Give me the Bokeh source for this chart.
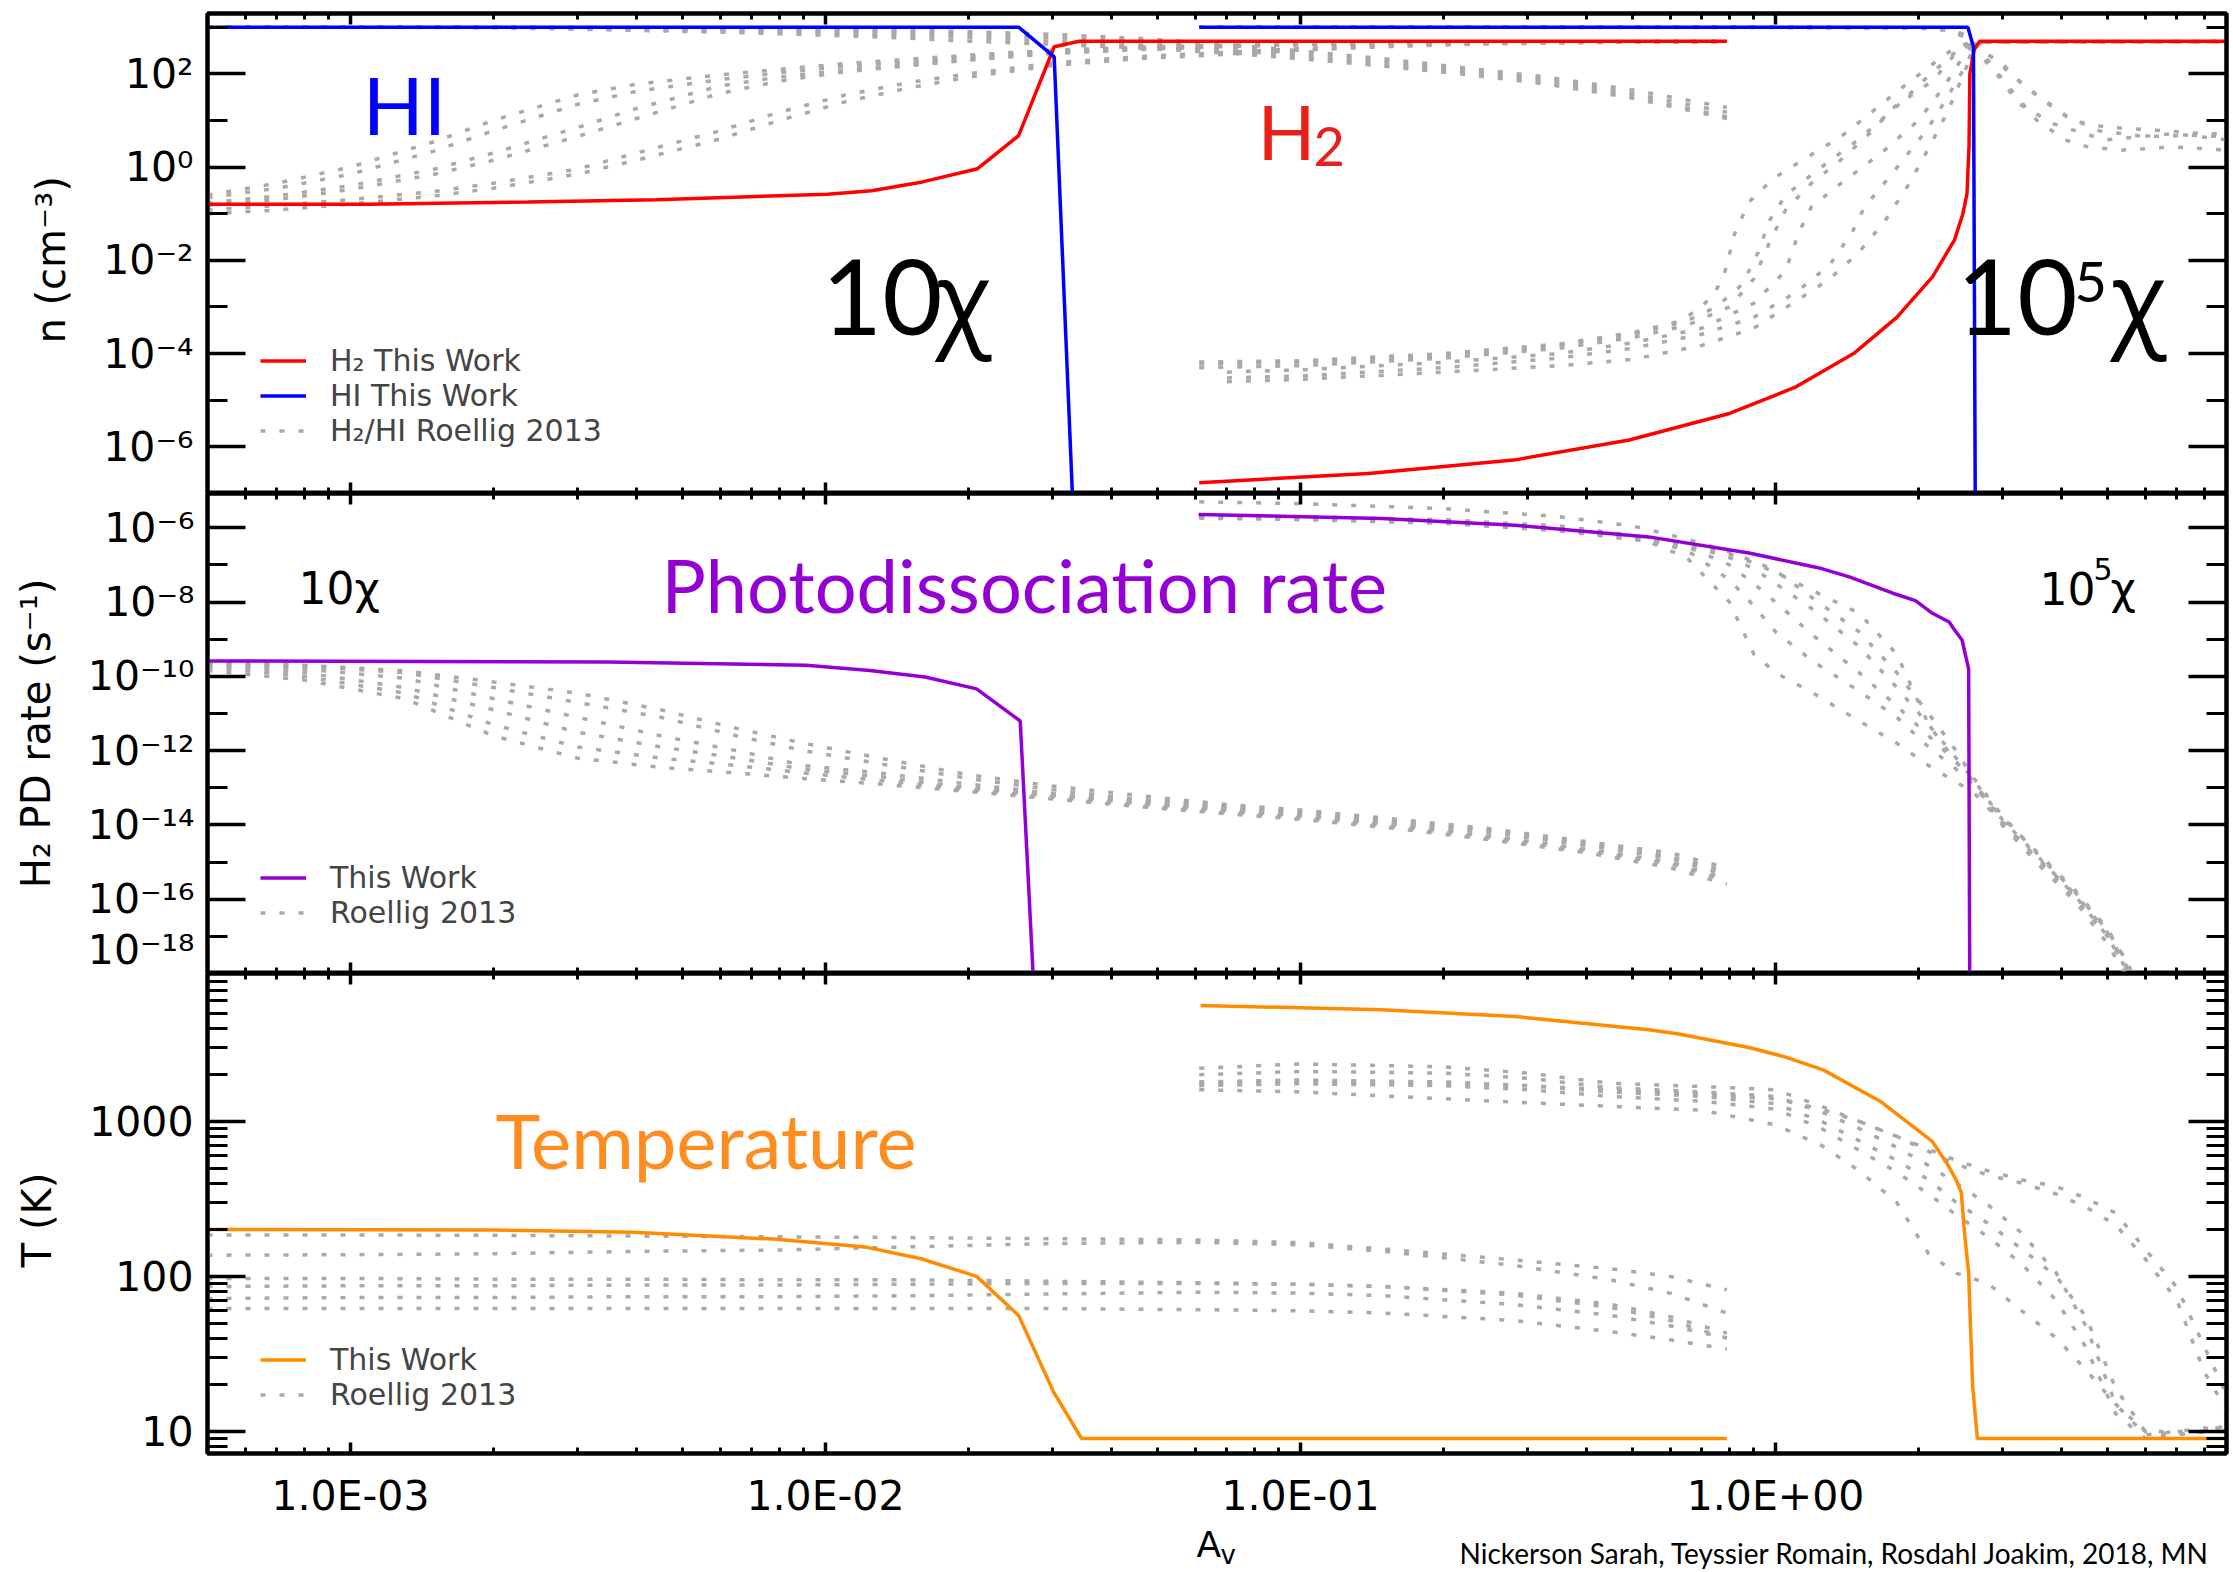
from bokeh.plotting import figure
from bokeh.layouts import column
from bokeh.models import (Range1d, LogAxis, FixedTicker, Label, Legend, LegendItem)
from bokeh.core.properties import value
from bokeh.embed import file_html
from bokeh.resources import INLINE

# ------------------------------------------------------------------
# Axis ticks and labels
# ------------------------------------------------------------------
av_ticks = [1.0e-3, 1.0e-2, 1.0e-1, 1.0]
av_tick_labels = ["1.0E-03", "1.0E-02", "1.0E-01", "1.0E+00"]

n_ticks = [1e-6, 1e-4, 1e-2, 1.0, 1e2]
n_tick_labels = ["10⁻⁶", "10⁻⁴", "10⁻²", "10⁰", "10²"]

pd_ticks = [1e-16, 1e-14, 1e-12, 1e-10, 1e-8, 1e-6]
pd_tick_labels = ["10⁻¹⁶", "10⁻¹⁴", "10⁻¹²", "10⁻¹⁰", "10⁻⁸", "10⁻⁶"]
pd_bottom_label = "10⁻¹⁸"     # the 1e-18 label sits just above the frame edge
pd_bottom_label_at = 2.24e-18

t_ticks = [10.0, 100.0, 1000.0]
t_tick_labels = ["10", "100", "1000"]

# ------------------------------------------------------------------
# Panel 1: H2 / HI number densities (cm^-3), this work
# ------------------------------------------------------------------
h2_lo_av = [5.0e-4, 1.09e-3, 2.36e-3, 4.4e-3, 0.0101, 0.0125, 0.0160, 0.0209, 0.0255, 0.0303, 0.0342, 0.79]
h2_lo_n = [0.16, 0.16, 0.177, 0.20, 0.26, 0.31, 0.48, 0.92, 4.7, 380.0, 500.0, 500.0]
hi_lo_av = [5.0e-4, 0.0255, 0.0303, 0.0334]
hi_lo_n = [1000.0, 1000.0, 231.0, 1.0e-8]

h2_hi_av = [0.0612, 0.139, 0.281, 0.492, 0.80, 1.10, 1.46, 1.80, 2.14, 2.38, 2.48, 2.53,
            2.555, 2.565, 2.62, 2.69, 8.9]
h2_hi_n = [1.7e-7, 2.7e-7, 5.2e-7, 1.4e-6, 5.2e-6, 1.9e-5, 1.0e-4, 6.0e-4, 4.4e-3, 0.027, 0.10, 0.27,
           3.0, 100.0, 330.0, 500.0, 500.0]
hi_hi_av = [0.0612, 2.54, 2.61, 2.635]
hi_hi_n = [1000.0, 1000.0, 380.0, 1.0e-8]

# Roellig 2013 benchmark models, 10 chi
rl_n_lo_av = [5.0e-4, 7.0e-4, 1.0e-3, 1.5e-3, 2.0e-3, 3.0e-3, 4.0e-3, 6.0e-3, 8.0e-3, 0.011, 0.015,
              0.02, 0.03, 0.045, 0.07, 0.1, 0.15, 0.22, 0.33, 0.5, 0.79]
rl_h2_lo = [
    [0.25, 0.45, 1.0, 3.5, 10, 35, 60, 95, 125, 165, 205, 250, 320, 370, 410, 440, 460, 475, 485, 490, 495],
    [0.22, 0.35, 0.7, 2.2, 6, 22, 42, 75, 105, 145, 185, 230, 300, 355, 400, 430, 455, 470, 480, 488, 492],
    [0.17, 0.24, 0.4, 0.9, 2.0, 7, 18, 55, 85, 120, 160, 205, 280, 340, 390, 425, 450, 468, 478, 486, 490],
    [0.15, 0.2, 0.33, 0.7, 1.4, 4.5, 11, 38, 70, 110, 150, 195, 270, 330, 385, 420, 448, 465, 477, 485, 490],
    [0.12, 0.15, 0.2, 0.3, 0.45, 0.9, 2.0, 6, 15, 35, 65, 100, 170, 230, 290, 350, 400, 440, 465, 480, 488],
    [0.1, 0.12, 0.16, 0.24, 0.35, 0.7, 1.4, 4, 10, 25, 50, 85, 150, 210, 260, 320, 380, 425, 455, 475, 485],
]
rl_hi_lo = [
    [1000, 1000, 1000, 1000, 1000, 990, 980, 960, 940, 900, 860, 800, 700, 580, 430, 310, 210, 135, 85, 45, 19],
    [1000, 1000, 1000, 1000, 995, 960, 940, 900, 860, 820, 760, 690, 600, 490, 370, 270, 185, 120, 75, 38, 15],
    [1000, 1000, 1000, 995, 985, 930, 890, 840, 790, 740, 670, 600, 500, 410, 320, 235, 160, 108, 66, 33, 12],
    [1000, 1000, 995, 985, 970, 900, 850, 780, 720, 650, 580, 500, 430, 360, 280, 210, 145, 98, 60, 30, 11],
]

# Roellig 2013 benchmark models, 10^5 chi
rl_h2_hi_av = [
    [0.0612, 0.1, 0.2, 0.35, 0.5, 0.63, 0.70, 0.75, 0.78, 0.82, 0.88, 0.99, 1.17, 1.37, 1.58, 1.82, 2.15, 2.40, 2.6, 3.5, 9.0],
    [0.0612, 0.1, 0.2, 0.35, 0.5, 0.65, 0.8, 0.9, 0.98, 1.05, 1.19, 1.37, 1.58, 1.78, 2.15, 2.36, 2.55, 2.7, 9.0],
    [0.07, 0.1, 0.2, 0.35, 0.5, 0.7, 0.9, 1.05, 1.12, 1.19, 1.40, 1.67, 2.0, 2.26, 2.48, 2.6, 2.75, 9.0],
    [0.07, 0.1, 0.2, 0.35, 0.5, 0.7, 0.9, 1.1, 1.3, 1.45, 1.54, 1.76, 2.08, 2.28, 2.53, 2.62, 2.75, 9.0],
    [0.07, 0.1, 0.2, 0.35, 0.5, 0.7, 0.9, 1.1, 1.3, 1.5, 1.7, 1.9, 2.1, 2.3, 2.5, 2.62, 2.75, 9.0],
    [0.0612, 0.1, 0.2, 0.35, 0.5, 0.65, 0.75, 0.85, 0.92, 0.97, 1.05, 1.25, 1.5, 1.8, 2.1, 2.4, 2.6, 2.75, 9.0],
]
rl_h2_hi_n = [
    [6.6e-5, 7e-5, 1.0e-4, 1.6e-4, 2.8e-4, 5e-4, 1e-3, 2.3e-3, 5e-3, 0.037, 0.18, 0.57, 1.66, 4.4, 14, 45, 166, 380, 480, 490, 495],
    [5e-5, 5.5e-5, 8e-5, 1.3e-4, 2.2e-4, 4e-4, 1e-3, 4e-3, 0.03, 0.12, 0.45, 1.4, 5.3, 19.6, 73, 230, 420, 480, 490],
    [4e-5, 4.5e-5, 6.5e-5, 1.0e-4, 1.7e-4, 3.5e-4, 1.2e-3, 6e-3, 0.04, 0.14, 0.52, 2.0, 10, 52, 230, 430, 480, 488],
    [3e-5, 3.3e-5, 5e-5, 8e-5, 1.3e-4, 2.6e-4, 6e-4, 2e-3, 8e-3, 0.04, 0.14, 0.72, 6.2, 27, 166, 400, 480, 485],
    [2.5e-5, 2.8e-5, 4e-5, 5.5e-5, 7.5e-5, 1.5e-4, 3.5e-4, 1.3e-3, 4e-3, 0.015, 0.07, 0.4, 2.5, 15, 110, 380, 470, 480],
    [6e-5, 6.5e-5, 9e-5, 1.5e-4, 2.6e-4, 5e-4, 1e-3, 3e-3, 0.015, 0.07, 0.25, 1.0, 4, 20, 90, 300, 450, 485, 490],
]
rl_hi_hi_av = [
    [0.0612, 1.0, 2.0, 2.3, 2.5, 2.62, 2.70, 3.0, 3.3, 3.77, 4.22, 4.94, 6.24, 7.92, 9.0],
    [0.0612, 1.0, 2.0, 2.3, 2.5, 2.65, 2.80, 3.13, 3.55, 4.07, 4.55, 5.33, 6.9, 9.0],
    [0.0612, 1.0, 2.0, 2.3, 2.5, 2.65, 2.9, 3.25, 3.84, 4.94, 6.9, 9.0],
    [0.0612, 2.0, 2.35, 2.55, 2.7, 2.9, 3.2, 3.6, 4.1, 4.8, 6.0, 7.5, 9.0],
]
rl_hi_hi_n = [
    [1000, 995, 970, 900, 700, 450, 320, 166, 62, 23, 10, 7.2, 6.2, 5.2, 5.2],
    [1000, 990, 950, 850, 620, 380, 195, 45, 10, 3.8, 2.7, 2.3, 2.7, 2.3],
    [1000, 990, 960, 880, 660, 300, 110, 23, 8.5, 3.8, 5.2, 3.8],
    [1000, 975, 880, 600, 350, 200, 80, 30, 12, 6, 4.5, 4.8, 4.5],
]

# ------------------------------------------------------------------
# Panel 2: H2 photodissociation rate (s^-1)
# ------------------------------------------------------------------
pd_lo_av = [5.0e-4, 3.47e-3, 9.1e-3, 0.0124, 0.0162, 0.0208, 0.0257, 0.0276]
pd_lo_k = [2.6e-10, 2.45e-10, 2.0e-10, 1.45e-10, 9.6e-11, 4.6e-11, 6.3e-12, 1.0e-19]
pd_hi_av = [0.0610, 0.148, 0.283, 0.541, 0.879, 1.25, 1.43, 1.80, 1.97, 2.14, 2.32, 2.38, 2.47, 2.55, 2.565]
pd_hi_k = [2.3e-6, 1.78e-6, 1.17e-6, 5.7e-7, 2.1e-7, 8.0e-8, 4.8e-8, 1.6e-8, 1.1e-8, 5.0e-9, 2.9e-9,
           1.8e-9, 9.5e-10, 1.6e-10, 1.0e-19]

# Roellig 2013, log10 of the rate
rl_pd_lo_av = [5.0e-4, 8.0e-4, 1.3e-3, 2.0e-3, 3.0e-3, 4.5e-3, 6.5e-3, 9.0e-3, 0.013, 0.02, 0.03,
               0.045, 0.07, 0.1, 0.16, 0.25, 0.4, 0.6, 0.79]
rl_pd_lo_log = [
    [-9.6, -9.7, -9.85, -10.15, -10.45, -10.9, -11.4, -11.8, -12.2, -12.65, -12.95, -13.2, -13.45, -13.6, -13.85, -14.1, -14.45, -14.75, -15.15],
    [-9.62, -9.72, -9.9, -10.3, -10.7, -11.1, -11.6, -12.0, -12.35, -12.75, -13.05, -13.3, -13.5, -13.65, -13.9, -14.15, -14.5, -14.85, -15.25],
    [-9.65, -9.8, -10.05, -10.6, -11.1, -11.6, -12.0, -12.4, -12.6, -12.9, -13.15, -13.35, -13.55, -13.7, -13.95, -14.2, -14.55, -14.9, -15.35],
    [-9.7, -9.9, -10.3, -10.9, -11.5, -11.9, -12.2, -12.5, -12.7, -13.0, -13.2, -13.4, -13.6, -13.75, -14.0, -14.3, -14.65, -15.0, -15.45],
    [-9.84, -10.1, -10.6, -11.6, -12.2, -12.45, -12.6, -12.75, -12.9, -13.1, -13.3, -13.5, -13.7, -13.85, -14.1, -14.4, -14.75, -15.15, -15.6],
    [-9.75, -10.0, -10.45, -11.3, -11.9, -12.2, -12.4, -12.6, -12.8, -13.05, -13.25, -13.45, -13.65, -13.8, -14.05, -14.35, -14.7, -15.05, -15.5],
]
rl_pd_hi_av = [0.0612, 0.1, 0.2, 0.35, 0.5, 0.65, 0.8, 0.9, 1.0, 1.2, 1.5, 1.8, 2.1, 2.4, 2.6,
               3.0, 3.6, 4.3, 5.0, 5.6]
rl_pd_hi_log = [
    [-5.67, -5.7, -5.78, -5.95, -6.2, -6.8, -8.0, -9.4, -9.9, -10.45, -11.2, -11.8, -12.4, -12.85, -13.1, -13.95, -14.95, -15.9, -16.9, -18.0],
    [-5.68, -5.72, -5.8, -6.0, -6.25, -6.6, -7.4, -8.1, -8.8, -9.6, -10.4, -11.1, -11.9, -12.5, -12.9, -13.8, -14.8, -15.8, -16.8, -17.9],
    [-5.7, -5.74, -5.82, -6.02, -6.28, -6.5, -7.0, -7.5, -8.0, -8.9, -9.9, -10.8, -11.6, -12.3, -12.8, -13.9, -15.0, -16.0, -17.0, -18.1],
    [-5.72, -5.76, -5.85, -6.05, -6.3, -6.45, -6.8, -7.1, -7.5, -8.2, -9.2, -10.3, -11.3, -12.2, -12.75, -13.85, -14.9, -15.95, -17.0, -18.1],
    [-5.74, -5.78, -5.88, -6.08, -6.32, -6.4, -6.7, -6.95, -7.2, -7.7, -8.3, -9.4, -11.3, -12.3, -12.85, -14.0, -15.1, -16.1, -17.2, -18.3],
    [-5.3, -5.35, -5.48, -5.7, -5.95, -6.3, -6.65, -6.9, -7.15, -7.9, -8.8, -9.9, -11.0, -12.0, -12.7, -13.75, -14.85, -15.85, -16.85, -17.85],
]

# ------------------------------------------------------------------
# Panel 3: gas temperature (K)
# ------------------------------------------------------------------
t_lo_av = [5.0e-4, 1.99e-3, 3.94e-3, 7.77e-3, 0.0121, 0.0159, 0.0208, 0.0255, 0.0302, 0.0346, 0.79]
t_lo_T = [201, 199, 193, 174, 155, 130, 100, 56, 18, 9.0, 9.0]
t_hi_av = [0.0616, 0.148, 0.283, 0.541, 0.63, 0.879, 1.05, 1.26, 1.66, 2.03, 2.14, 2.31, 2.40, 2.46,
           2.50, 2.55, 2.60, 2.66, 8.9]
t_hi_T = [5600, 5250, 4750, 3900, 3650, 3000, 2600, 2150, 1350, 840, 740, 520, 420, 348,
          190, 105, 19.5, 9.0, 9.0]

rl_t_lo_av = [5.0e-4, 1.0e-3, 2.0e-3, 4.0e-3, 8.0e-3, 0.015, 0.03, 0.06, 0.1, 0.15, 0.28, 0.45, 0.6, 0.79]
rl_t_lo = [
    [185, 185, 184, 182, 180, 178, 175, 172, 165, 150, 128, 112, 100, 82],
    [137, 138, 140, 145, 148, 155, 163, 166, 160, 145, 118, 95, 78, 58],
    [97, 97, 96, 96, 95, 95, 93, 91, 89, 86, 78, 66, 55, 43],
    [86, 87, 87, 88, 88, 89, 90, 90, 89, 86, 76, 63, 52, 40],
    [72, 73, 73, 74, 74, 75, 77, 79, 78, 75, 66, 56, 48, 40],
    [62, 62, 62, 62, 62, 62, 62, 61, 60, 58, 52, 44, 39, 34],
]
rl_t_hi_av = [0.0612, 0.1, 0.2, 0.3, 0.45, 0.7, 1.0, 1.25, 1.5, 1.8, 2.1, 2.4, 2.8, 3.3, 3.9, 4.5,
              5.2, 6.0, 7.0, 8.0, 9.0]
rl_t_hi = [
    [2200, 2350, 2250, 2050, 1760, 1680, 1600, 1250, 1000, 800, 640, 530, 450, 400, 340, 280, 215, 130, 70, 24, 13],
    [2000, 2100, 2050, 1900, 1650, 1550, 1450, 1150, 900, 680, 520, 400, 290, 190, 105, 48, 15, 9.5, 10, 10.5, 10],
    [1800, 1850, 1800, 1700, 1550, 1450, 1300, 1000, 750, 560, 420, 300, 220, 150, 100, 55, 19, 10, 10, 10, 11],
    [1700, 1750, 1700, 1600, 1450, 1350, 1200, 900, 650, 470, 340, 250, 180, 120, 70, 35, 13, 9, 9.5, 10, 11],
    [1600, 1550, 1400, 1320, 1250, 1180, 950, 700, 480, 300, 140, 105, 90, 60, 40, 25, 15, 10, 9.5, 10, 10],
    [1750, 1800, 1750, 1700, 1600, 1500, 1400, 1200, 1000, 800, 660, 560, 480, 420, 380, 320, 256, 150, 85, 35, 16],
]

# ------------------------------------------------------------------
# Styling
# ------------------------------------------------------------------
RED, BLUE, PURPLE, ORANGE, GRAY = "#ff0000", "#0000ff", "#9400d3", "#ff8c00", "#a9a9a9"
LINE_W = 3.5
FRAME_W, FRAME_H = 2019, 480
LEFT, RIGHT = 207, 7
TICK_FONT = "DejaVu Sans"
TICK_PX = 41
ROW_H = 35
BASELINE_SHIFT = 0.39   # Label anchors sit this fraction of the font size above the baseline

x_range = Range1d(5.0e-4, 8.9)
x_minor = [m * 10.0 ** e for e in range(-4, 1) for m in range(2, 10) if 5.0e-4 < m * 10.0 ** e < 8.9]


def make_panel(y_range, y_major, y_minor, border_top, border_bottom):
    p = figure(frame_width=FRAME_W, frame_height=FRAME_H, x_axis_type="log", y_axis_type="log",
               x_range=x_range, y_range=y_range, output_backend="svg", toolbar_location=None,
               min_border_left=LEFT, min_border_right=RIGHT,
               min_border_top=border_top, min_border_bottom=border_bottom,
               background_fill_color="white", border_fill_color="white",
               outline_line_color="black", outline_line_width=4)
    p.grid.visible = False
    xt = FixedTicker(ticks=av_ticks, minor_ticks=x_minor)
    yt = FixedTicker(ticks=y_major, minor_ticks=y_minor)
    p.xaxis.ticker = xt
    p.yaxis.ticker = yt
    p.add_layout(LogAxis(ticker=yt), "right")
    p.add_layout(LogAxis(ticker=xt), "above")
    for ax in p.xaxis:
        ax.major_tick_in, ax.major_tick_out = 11, 0
        ax.minor_tick_in, ax.minor_tick_out = 6, 0
    for ax in p.yaxis:
        ax.major_tick_in, ax.major_tick_out = 38, 0
        ax.minor_tick_in, ax.minor_tick_out = 20, 0
    for ax in p.axis:
        ax.axis_line_width = 4
        ax.axis_line_color = "black"
        ax.major_tick_line_width = 3.5
        ax.minor_tick_line_width = 3
        ax.major_tick_line_color = "black"
        ax.minor_tick_line_color = "black"
        # frame-edge axes carry ticks only
        ax.major_label_text_font_size = "1px"
        ax.major_label_text_alpha = 0
        ax.major_label_standoff = 0
    return p


def label_y_axis(ax, ticks, labels, title):
    ax.major_label_overrides = dict(zip(ticks, labels))
    ax.major_label_text_font = TICK_FONT
    ax.major_label_text_font_size = f"{TICK_PX}px"
    ax.major_label_text_alpha = 1
    ax.major_label_text_color = "black"
    ax.major_label_standoff = 14
    ax.axis_label = title
    ax.axis_label_text_font = TICK_FONT
    ax.axis_label_text_font_size = "40px"
    ax.axis_label_text_font_style = "normal"
    ax.axis_label_text_color = "black"
    ax.axis_label_standoff = 26


def gray(p, xs, ys):
    return p.line(xs, ys, line_color=GRAY, line_width=3.5, line_dash="5 14")


def add_text(p, x, baseline, text, font, size, color="black", align="left"):
    p.add_layout(Label(x=x, y=baseline + BASELINE_SHIFT * size, x_units="screen", y_units="screen",
                       text=text, text_font=font, text_font_size=f"{size}px", text_color=color,
                       text_align=align, text_baseline="alphabetic"))


def add_key(p, renderer, text, row_center):
    leg = Legend(items=[LegendItem(label=value(text), renderers=[renderer])],
                 location=(53, FRAME_H - row_center - ROW_H // 2),
                 padding=0, margin=0, spacing=0,
                 glyph_width=46, glyph_height=ROW_H, label_height=ROW_H, label_standoff=24,
                 label_text_font=TICK_FONT, label_text_font_size="30px",
                 border_line_color=None, background_fill_alpha=0)
    p.add_layout(leg)


# ------------------------------------------------------------------
# Panel 1: densities
# ------------------------------------------------------------------
p1 = make_panel(Range1d(1.0e-7, 1960.0), n_ticks, [1e-7, 1e-5, 1e-3, 1e-1, 1e1, 1e3], 13, 0)
label_y_axis(p1.left[0], n_ticks, n_tick_labels, "n  (cm⁻³)")

g1 = None
for ys in rl_h2_lo:
    r = gray(p1, rl_n_lo_av, ys)
    g1 = g1 or r
for ys in rl_hi_lo:
    gray(p1, rl_n_lo_av, ys)
for xs, ys in zip(rl_h2_hi_av, rl_h2_hi_n):
    gray(p1, xs, ys)
for xs, ys in zip(rl_hi_hi_av, rl_hi_hi_n):
    gray(p1, xs, ys)

r_h2 = p1.line(h2_lo_av, h2_lo_n, line_color=RED, line_width=LINE_W)
p1.line(h2_hi_av, h2_hi_n, line_color=RED, line_width=LINE_W)
r_hi = p1.line(hi_lo_av, hi_lo_n, line_color=BLUE, line_width=LINE_W)
p1.line(hi_hi_av, hi_hi_n, line_color=BLUE, line_width=LINE_W)

add_key(p1, r_h2, "H₂ This Work", 348)
add_key(p1, r_hi, "HI This Work", 383)
add_key(p1, g1, "H₂/HI Roellig 2013", 418)

# positions: x from the frame's left edge, baseline from the frame's bottom edge
add_text(p1, 197, 358, "HI", "Lato", 80, BLUE, "center")
add_text(p1, 1050, 333, "H", "Lato", 76, "#eb1f19")
add_text(p1, 1106, 326, "2", "Lato", 54, "#eb1f19")
add_text(p1, 735, 156, "10", "Lato", 104, "black", "right")
add_text(p1, 728, 156, "χ", "Open Sans", 104)
add_text(p1, 1870, 156, "10", "Lato", 104, "black", "right")
add_text(p1, 1867, 190, "5", "Lato", 56)
add_text(p1, 1903, 156, "χ", "Open Sans", 104)

# ------------------------------------------------------------------
# Panel 2: photodissociation rate
# ------------------------------------------------------------------
p2 = make_panel(Range1d(1.0e-18, 8.4e-6), pd_ticks,
                [1e-17, 1e-15, 1e-13, 1e-11, 1e-9, 1e-7], 0, 0)
# the frame-edge axis keeps the tick marks; an outer, line-less axis carries the labels
pd_label_ticks = [pd_bottom_label_at] + pd_ticks
pd_label_texts = [pd_bottom_label] + pd_tick_labels
pd_lab = LogAxis(ticker=FixedTicker(ticks=pd_label_ticks, minor_ticks=[]))
p2.add_layout(pd_lab, "left")
pd_lab.axis_line_color = None
pd_lab.major_tick_line_color = None
pd_lab.minor_tick_line_color = None
pd_lab.major_tick_in = pd_lab.major_tick_out = 0
pd_lab.minor_tick_in = pd_lab.minor_tick_out = 0
label_y_axis(pd_lab, pd_label_ticks, pd_label_texts, "H₂ PD rate (s⁻¹)")
pd_lab.major_label_standoff = 13

g2 = None
for ys in rl_pd_lo_log:
    r = gray(p2, rl_pd_lo_av, [10.0 ** v for v in ys])
    g2 = g2 or r
for ys in rl_pd_hi_log:
    gray(p2, rl_pd_hi_av, [10.0 ** v for v in ys])

r_pd = p2.line(pd_lo_av, pd_lo_k, line_color=PURPLE, line_width=LINE_W)
p2.line(pd_hi_av, pd_hi_k, line_color=PURPLE, line_width=LINE_W)

add_key(p2, r_pd, "This Work", 385)
add_key(p2, g2, "Roellig 2013", 420)

add_text(p2, 454, 360, "Photodissociation rate", "Lato", 74, PURPLE)
add_text(p2, 91, 368, "10χ", TICK_FONT, 44)
add_text(p2, 1832, 368, "10", TICK_FONT, 44)
add_text(p2, 1886, 393, "5", TICK_FONT, 30)
add_text(p2, 1903, 368, "χ", TICK_FONT, 44)

# ------------------------------------------------------------------
# Panel 3: temperature
# ------------------------------------------------------------------
T_BOTTOM = 72
t_minor = [m * 10 ** e for e in range(0, 4) for m in range(2, 10) if 7.2 < m * 10 ** e < 9000]
p3 = make_panel(Range1d(7.2, 9000.0), t_ticks, t_minor, 0, T_BOTTOM)
label_y_axis(p3.left[0], t_ticks, t_tick_labels, "T  (K)")
xb = p3.below[0]
xb.major_label_overrides = dict(zip(av_ticks, av_tick_labels))
xb.major_label_text_font = TICK_FONT
xb.major_label_text_font_size = f"{TICK_PX}px"
xb.major_label_text_alpha = 1
xb.major_label_text_color = "black"
xb.major_label_standoff = 18

g3 = None
for ys in rl_t_lo:
    r = gray(p3, rl_t_lo_av, ys)
    g3 = g3 or r
for ys in rl_t_hi:
    gray(p3, rl_t_hi_av, ys)

r_t = p3.line(t_lo_av, t_lo_T, line_color=ORANGE, line_width=LINE_W)
p3.line(t_hi_av, t_hi_T, line_color=ORANGE, line_width=LINE_W)

add_key(p3, r_t, "This Work", 387)
add_key(p3, g3, "Roellig 2013", 422)

add_text(p3, 288, 284, "Temperature", "Lato", 76, "#ff8c1e")

# ------------------------------------------------------------------
# Footer strip: axis title and credit line (same frame columns as the panels)
# ------------------------------------------------------------------
FOOT_H = 1572 - (13 + FRAME_H) - FRAME_H - (FRAME_H + T_BOTTOM)
p4 = figure(frame_width=FRAME_W, frame_height=FOOT_H, x_range=Range1d(0, 1), y_range=Range1d(0, 1),
            output_backend="svg", toolbar_location=None, x_axis_location=None, y_axis_location=None,
            min_border_left=LEFT, min_border_right=RIGHT, min_border_top=0, min_border_bottom=0,
            outline_line_color=None, background_fill_color="white", border_fill_color="white")
p4.grid.visible = False
add_text(p4, 989, 14, "A", TICK_FONT, 36)
add_text(p4, 1013, 7, "v", TICK_FONT, 26)
add_text(p4, 1252, 9, "Nickerson Sarah, Teyssier Romain, Rosdahl Joakim, 2018, MN", "Lato", 28)

layout = column(p1, p2, p3, p4, spacing=0)
open("out.html", "w").write(file_html(layout, INLINE))
